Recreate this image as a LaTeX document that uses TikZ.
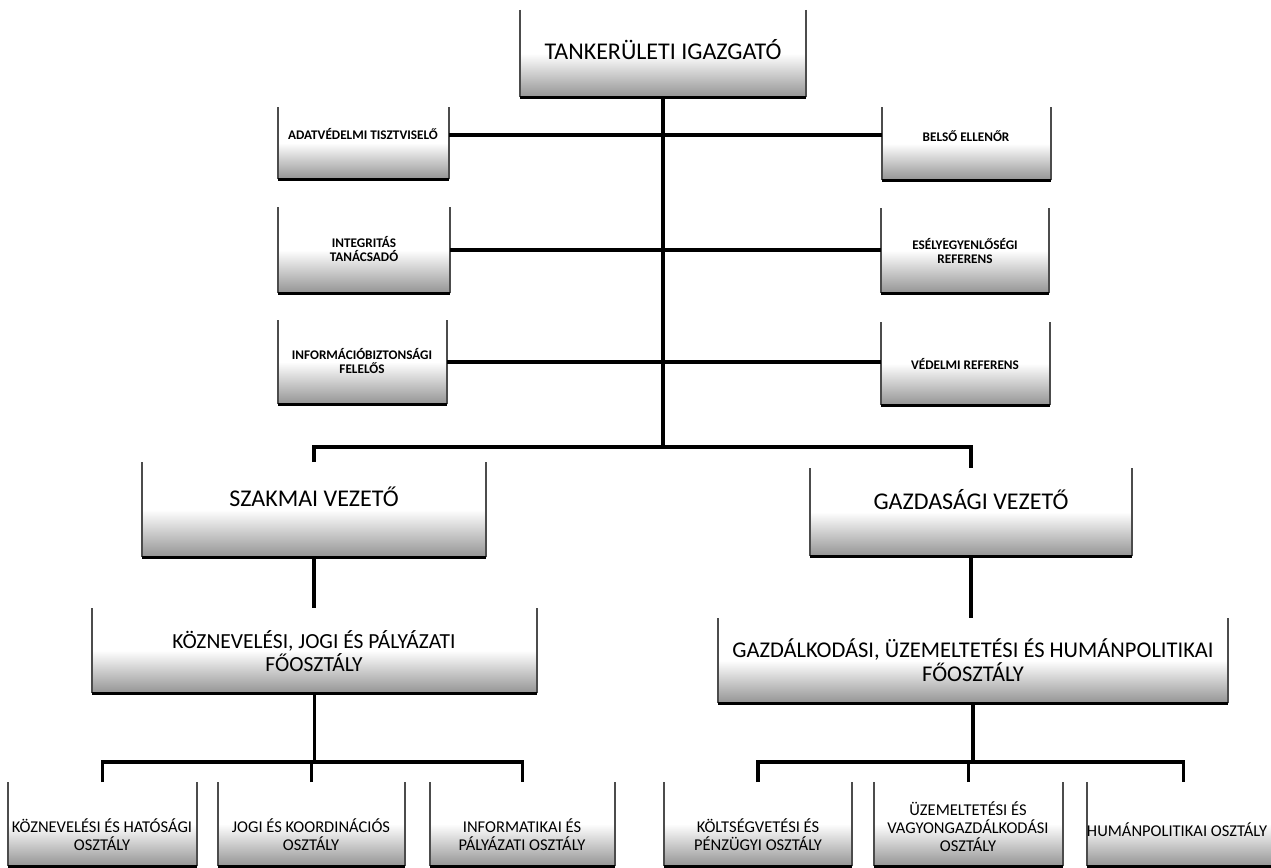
\documentclass[tikz,border=0pt]{standalone}
\usepackage{fontspec}
\setmainfont{Carlito}
\newcommand\ubox[5]{\node[ubox, minimum width={#4-#2}, minimum height={#5-#3}] (#1) at ({(#2+#4)/2},{(#3+#5)/2}) {};}
\begin{document}
\begin{tikzpicture}[x=1pt,y=-1pt,
 ubox/.style={inner sep=0pt, outer sep=0pt, top color=white, bottom color=black!42, middle color=white},
 sideln/.style={draw=black!70, line width=1.4pt},
 baseln/.style={draw=black, line width=3pt},
 conn/.style={draw=black, line width=3.5pt},
 lbl/.style={inner sep=0pt, align=center, text=black},
 big/.style={lbl, font=\fontsize{24}{28}\selectfont},
 mid/.style={lbl, font=\fontsize{21.5}{23}\selectfont},
 sml/.style={lbl, font=\fontsize{16.5}{18}\selectfont},
 tny/.style={lbl, font=\bfseries\fontsize{13.2}{14.5}\selectfont}]
\useasboundingbox (0,0) rectangle (1271,867);
% boxes
\ubox{top}{520}{10}{806}{97}
\ubox{adat}{278}{107}{449}{179}
\ubox{belso}{882}{107}{1051}{180}
\ubox{integ}{278}{207}{450}{293}
\ubox{esely}{881}{208}{1049}{293}
\ubox{info}{278}{320}{447}{404}
\ubox{vedelmi}{881}{322}{1050}{405}
\ubox{szak}{142}{462}{486}{557}
\ubox{gv}{810}{468}{1132}{556}
\ubox{kjp}{92}{608}{537}{693}
\ubox{gh}{718}{618}{1228}{703}
\ubox{b1}{8}{782}{197}{866}
\ubox{b2}{218}{782}{405}{866}
\ubox{b3}{430}{782}{615}{866}
\ubox{b4}{664}{782}{852}{866}
\ubox{b5}{874}{782}{1063}{866}
\ubox{b6}{1087}{782}{1280}{866}
\foreach \n in {top,adat,belso,integ,esely,info,vedelmi,szak,gv,kjp,gh,b1,b2,b3,b4,b5,b6}{
  \draw[sideln] (\n.north west) -- (\n.south west);
  \draw[sideln] (\n.north east) -- (\n.south east);
  \draw[baseln] (\n.south west) -- (\n.south east);
}
% texts
\node[big] (top-t) at (663,50) {TANKERÜLETI IGAZGATÓ};
\node[tny] (adat-t) at (363,134) {ADATVÉDELMI TISZTVISELŐ};
\node[tny] (belso-t) at (966,136) {BELSŐ ELLENŐR};
\node[tny] (integ-t) at (364,249) {INTEGRITÁS\\TANÁCSADÓ};
\node[tny] (esely-t) at (965,251) {ESÉLYEGYENLŐSÉGI\\REFERENS};
\node[tny] (info-t) at (362,361) {INFORMÁCIÓBIZTONSÁGI\\FELELŐS};
\node[tny] (vedelmi-t) at (965,364) {VÉDELMI REFERENS};
\node[big] (szak-t) at (314,497) {SZAKMAI VEZETŐ};
\node[big] (gv-t) at (971,500) {GAZDASÁGI VEZETŐ};
\node[mid] (kjp-t) at (314,651) {KÖZNEVELÉSI, JOGI ÉS PÁLYÁZATI\\FŐOSZTÁLY};
\node[mid, font=\fontsize{22.5}{24}\selectfont] (gh-t) at (973,660) {GAZDÁLKODÁSI, ÜZEMELTETÉSI ÉS HUMÁNPOLITIKAI\\FŐOSZTÁLY};
\node[sml] (b1-t) at (102,835) {KÖZNEVELÉSI ÉS HATÓSÁGI\\OSZTÁLY};
\node[sml] (b2-t) at (311,835) {JOGI ÉS KOORDINÁCIÓS\\OSZTÁLY};
\node[sml] (b3-t) at (522,835) {INFORMATIKAI ÉS\\PÁLYÁZATI OSZTÁLY};
\node[sml] (b4-t) at (758,835) {KÖLTSÉGVETÉSI ÉS\\PÉNZÜGYI OSZTÁLY};
\node[sml] (b5-t) at (968,827) {ÜZEMELTETÉSI ÉS\\VAGYONGAZDÁLKODÁSI\\OSZTÁLY};
\node[sml] (b6-t) at (1177,830) {HUMÁNPOLITIKAI OSZTÁLY};
% connectors
\coordinate (sp) at (663,447);
\coordinate (r1) at (663,135);
\coordinate (r2) at (663,250);
\coordinate (r3) at (663,362);
\coordinate (lb) at (314,762);
\coordinate (rb) at (972,762);
\draw[conn] (top.south) -- (sp);
\draw[conn] (adat.east |- r1) -- (belso.west |- r1);
\draw[conn] (integ.east |- r2) -- (esely.west |- r2);
\draw[conn] (info.east |- r3) -- (vedelmi.west |- r3);
\draw[conn] (szak.north) -- (szak.north |- sp) -- (gv.north |- sp) -- (gv.north);
\draw[conn] (szak.south) -- (szak.south |- kjp.north);
\draw[conn] (gv.south) -- (gv.south |- gh.north);
\draw[conn] (kjp.south) -- (kjp.south |- lb);
\draw[conn] (b1.north) -- (b1.north |- lb) -- (b3.north |- lb) -- (b3.north);
\draw[conn] (b2.north) -- (b2.north |- lb);
\draw[conn] (gh.south) -- (gh.south |- rb);
\draw[conn] (b4.north) -- (b4.north |- rb) -- (b6.north |- rb) -- (b6.north);
\draw[conn] (b5.north) -- (b5.north |- rb);
\end{tikzpicture}
\end{document}
